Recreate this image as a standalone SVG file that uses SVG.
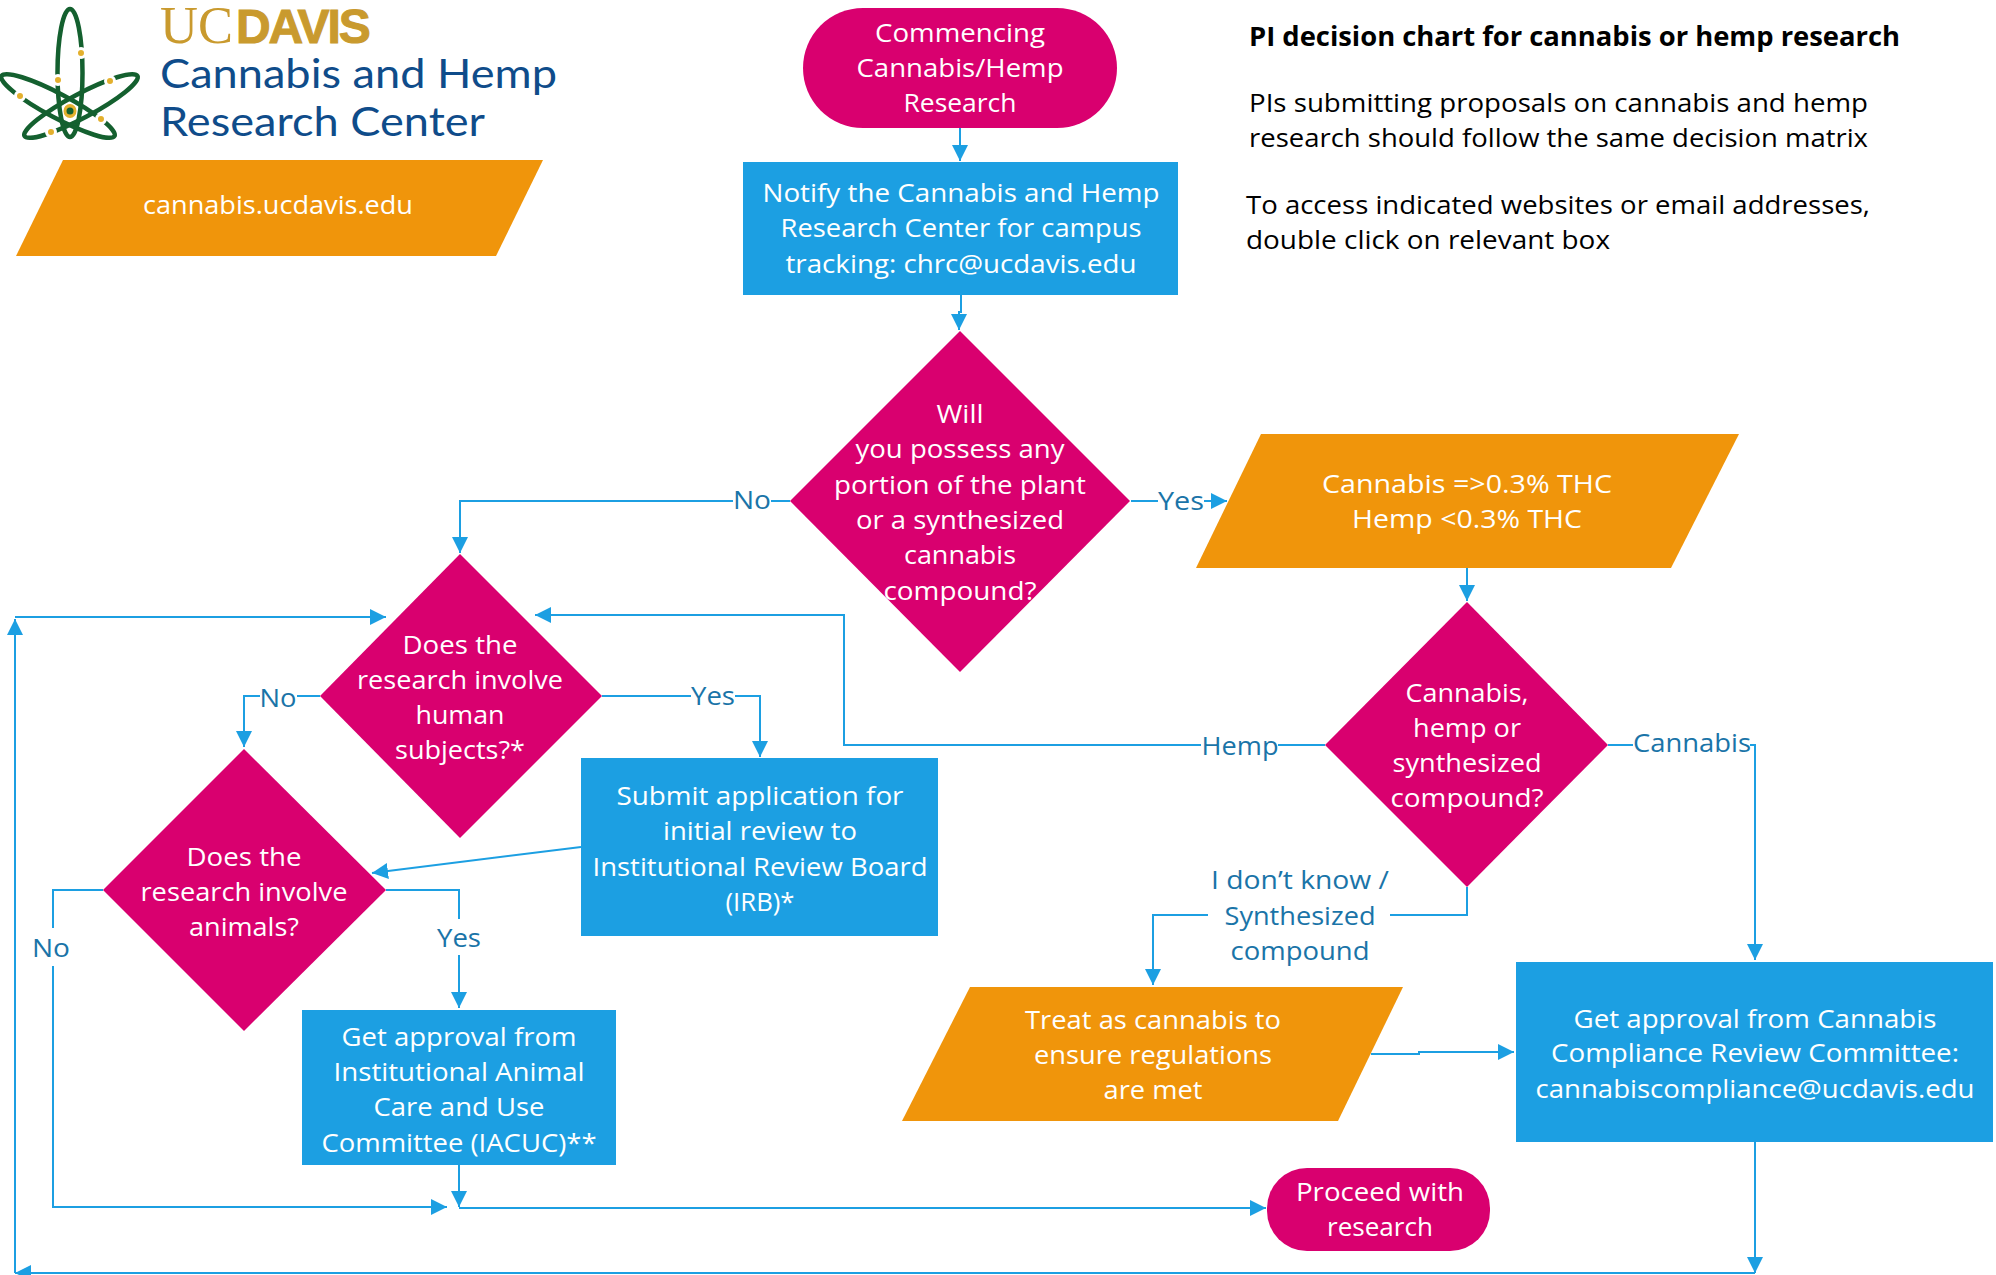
<svg xmlns="http://www.w3.org/2000/svg" width="1996" height="1275" viewBox="0 0 1996 1275">
<style>
text{font-family:"Open Sans","Noto Sans","Liberation Sans",sans-serif;font-size:26px}
.t{fill:#fff;text-anchor:middle}
.l{fill:#1a74a8;text-anchor:middle}
.k{fill:#000}
.b{font-weight:700}
.m{fill:#d9006f}
.c{fill:#1c9fe2}
.o{fill:#f0950b}
.w{fill:none;stroke:#1c9fe2;stroke-width:2}
.a{marker-end:url(#ah)}
.g{fill:none;stroke:#14602f;stroke-width:4.5}
.d{fill:#e3b02d;stroke:#fff;stroke-width:3}
.h{fill:#0f4c8a;font-family:Lato,"Open Sans",sans-serif;font-size:41px}
</style>
<defs>
<marker id="ah" markerUnits="userSpaceOnUse" markerWidth="18" markerHeight="18" refX="16" refY="8" orient="auto"><path d="M0 0L16 8L0 16Z" fill="#1c9fe2"/></marker>
</defs>
<g id="logo">
<ellipse class="g" cx="70" cy="73" rx="12.5" ry="64"/>
<ellipse class="g" cx="58" cy="106" rx="64" ry="12" transform="rotate(28 58 106)"/>
<ellipse class="g" cx="81" cy="106" rx="64" ry="12" transform="rotate(-28 81 106)"/>
<ellipse cx="70" cy="111" rx="6.5" ry="7" fill="#e3b02d"/>
<circle cx="70" cy="111" r="3.5" fill="#14602f"/>
<circle class="d" cx="81" cy="53" r="4.5"/><circle class="d" cx="58" cy="80" r="4.5"/><circle class="d" cx="110" cy="81" r="4.5"/><circle class="d" cx="20" cy="96" r="4.5"/><circle class="d" cx="101" cy="119" r="4.5"/><circle class="d" cx="51" cy="132" r="4.5"/>
<text x="160" y="43" fill="#c99a2e" style="font-family:'Liberation Serif',serif;font-size:52.5px">UC<tspan dx="3" style="font-family:'Liberation Sans',sans-serif;font-size:48px;font-weight:700;letter-spacing:-2.1px" stroke="#c99a2e" stroke-width="1">DAVIS</tspan></text>
<text class="h" x="160" y="88" textLength="397" lengthAdjust="spacingAndGlyphs">Cannabis and Hemp</text>
<text class="h" x="160" y="136" textLength="325" lengthAdjust="spacingAndGlyphs">Research Center</text>
</g>
<g id="website">
<polygon class="o" points="63,160 543,160 496,256 16,256"/>
<text class="t" x="278" y="214" textLength="270" lengthAdjust="spacingAndGlyphs">cannabis.ucdavis.edu</text>
</g>
<g id="intro">
<text class="k b" x="1249" y="46" textLength="651" lengthAdjust="spacingAndGlyphs">PI decision chart for cannabis or hemp research</text>
<text class="k" x="1249" y="112" textLength="619" lengthAdjust="spacingAndGlyphs">PIs submitting proposals on cannabis and hemp</text>
<text class="k" x="1249" y="147" textLength="619" lengthAdjust="spacingAndGlyphs">research should follow the same decision matrix</text>
<text class="k" x="1246" y="214" textLength="624" lengthAdjust="spacingAndGlyphs">To access indicated websites or email addresses,</text>
<text class="k" x="1246" y="249" textLength="364" lengthAdjust="spacingAndGlyphs">double click on relevant box</text>
</g>
<g id="start">
<rect class="m" x="803" y="8" width="314" height="120" rx="60"/>
<text class="t" x="960" y="42" textLength="170" lengthAdjust="spacingAndGlyphs">Commencing</text>
<text class="t" x="960" y="77" textLength="207" lengthAdjust="spacingAndGlyphs">Cannabis/Hemp</text>
<text class="t" x="960" y="112" textLength="113" lengthAdjust="spacingAndGlyphs">Research</text>
</g>
<g id="notify">
<rect class="c" x="743" y="162" width="435" height="133"/>
<text class="t" x="961" y="202" textLength="397" lengthAdjust="spacingAndGlyphs">Notify the Cannabis and Hemp</text>
<text class="t" x="961" y="237" textLength="361" lengthAdjust="spacingAndGlyphs">Research Center for campus</text>
<text class="t" x="961" y="273" textLength="351" lengthAdjust="spacingAndGlyphs">tracking: chrc@ucdavis.edu</text>
</g>
<g id="possess">
<polygon class="m" points="960,331 1130,501 960,672 790,501"/>
<text class="t" x="960" y="423" textLength="47" lengthAdjust="spacingAndGlyphs">Will</text>
<text class="t" x="960" y="458" textLength="209" lengthAdjust="spacingAndGlyphs">you possess any</text>
<text class="t" x="960" y="494" textLength="252" lengthAdjust="spacingAndGlyphs">portion of the plant</text>
<text class="t" x="960" y="529" textLength="208" lengthAdjust="spacingAndGlyphs">or a synthesized</text>
<text class="t" x="960" y="564" textLength="112" lengthAdjust="spacingAndGlyphs">cannabis</text>
<text class="t" x="960" y="600" textLength="153" lengthAdjust="spacingAndGlyphs">compound?</text>
</g>
<g id="thc">
<polygon class="o" points="1261,434 1739,434 1671,568 1196,568"/>
<text class="t" x="1467" y="493" textLength="290" lengthAdjust="spacingAndGlyphs">Cannabis =&gt;0.3% THC</text>
<text class="t" x="1467" y="528" textLength="230" lengthAdjust="spacingAndGlyphs">Hemp &lt;0.3% THC</text>
</g>
<g id="type">
<polygon class="m" points="1467,602 1608,745 1467,887 1325,745"/>
<text class="t" x="1467" y="702" textLength="123" lengthAdjust="spacingAndGlyphs">Cannabis,</text>
<text class="t" x="1467" y="737" textLength="108" lengthAdjust="spacingAndGlyphs">hemp or</text>
<text class="t" x="1467" y="772" textLength="149" lengthAdjust="spacingAndGlyphs">synthesized</text>
<text class="t" x="1467" y="807" textLength="153" lengthAdjust="spacingAndGlyphs">compound?</text>
</g>
<g id="human">
<polygon class="m" points="460,554 602,696 460,838 320,696"/>
<text class="t" x="460" y="654" textLength="115" lengthAdjust="spacingAndGlyphs">Does the</text>
<text class="t" x="460" y="689" textLength="206" lengthAdjust="spacingAndGlyphs">research involve</text>
<text class="t" x="460" y="724" textLength="89" lengthAdjust="spacingAndGlyphs">human</text>
<text class="t" x="460" y="759" textLength="130" lengthAdjust="spacingAndGlyphs">subjects?*</text>
</g>
<g id="animals">
<polygon class="m" points="244,749 386,890 244,1031 103,890"/>
<text class="t" x="244" y="866" textLength="115" lengthAdjust="spacingAndGlyphs">Does the</text>
<text class="t" x="244" y="901" textLength="207" lengthAdjust="spacingAndGlyphs">research involve</text>
<text class="t" x="244" y="936" textLength="110" lengthAdjust="spacingAndGlyphs">animals?</text>
</g>
<g id="irb">
<rect class="c" x="581" y="758" width="357" height="178"/>
<text class="t" x="760" y="805" textLength="287" lengthAdjust="spacingAndGlyphs">Submit application for</text>
<text class="t" x="760" y="840" textLength="194" lengthAdjust="spacingAndGlyphs">initial review to</text>
<text class="t" x="760" y="876" textLength="335" lengthAdjust="spacingAndGlyphs">Institutional Review Board</text>
<text class="t" x="760" y="911" textLength="69" lengthAdjust="spacingAndGlyphs">(IRB)*</text>
</g>
<g id="iacuc">
<rect class="c" x="302" y="1010" width="314" height="155"/>
<text class="t" x="459" y="1046" textLength="235" lengthAdjust="spacingAndGlyphs">Get approval from</text>
<text class="t" x="459" y="1081" textLength="251" lengthAdjust="spacingAndGlyphs">Institutional Animal</text>
<text class="t" x="459" y="1116" textLength="171" lengthAdjust="spacingAndGlyphs">Care and Use</text>
<text class="t" x="459" y="1152" textLength="275" lengthAdjust="spacingAndGlyphs">Committee (IACUC)**</text>
</g>
<g id="treat">
<polygon class="o" points="970,987 1403,987 1338,1121 902,1121"/>
<text class="t" x="1153" y="1029" textLength="256" lengthAdjust="spacingAndGlyphs">Treat as cannabis to</text>
<text class="t" x="1153" y="1064" textLength="238" lengthAdjust="spacingAndGlyphs">ensure regulations</text>
<text class="t" x="1153" y="1099" textLength="99" lengthAdjust="spacingAndGlyphs">are met</text>
</g>
<g id="compliance">
<rect class="c" x="1516" y="962" width="477" height="180"/>
<text class="t" x="1755" y="1028" textLength="363" lengthAdjust="spacingAndGlyphs">Get approval from Cannabis</text>
<text class="t" x="1755" y="1062" textLength="408" lengthAdjust="spacingAndGlyphs">Compliance Review Committee:</text>
<text class="t" x="1755" y="1098" textLength="439" lengthAdjust="spacingAndGlyphs">cannabiscompliance@ucdavis.edu</text>
</g>
<g id="proceed">
<rect class="m" x="1267" y="1168" width="223" height="83" rx="40"/>
<text class="t" x="1380" y="1201" textLength="168" lengthAdjust="spacingAndGlyphs">Proceed with</text>
<text class="t" x="1380" y="1236" textLength="106" lengthAdjust="spacingAndGlyphs">research</text>
</g>
<g id="connectors">
<path class="w a" d="M960 128V161"/>
<path class="w a" d="M961 295V312H959V330"/>
<path class="w" d="M790 501H771"/>
<path class="w a" d="M733 501H460V553"/>
<path class="w" d="M1131 501H1158"/>
<path class="w a" d="M1204 501H1227"/>
<path class="w a" d="M1467 568V601"/>
<path class="w" d="M1325 745H1278"/>
<path class="w a" d="M1201 745H844V615H535"/>
<path class="w" d="M1608 745H1633"/>
<path class="w a" d="M1750 745H1755V960"/>
<path class="w" d="M1467 887V915H1390"/>
<path class="w a" d="M1208 915H1153V985"/>
<path class="w a" d="M1371 1054H1419V1052H1514"/>
<path class="w a" d="M1755 1142V1273"/>
<path class="w a" d="M1755 1273H15"/>
<path class="w a" d="M15 1273V619"/>
<path class="w a" d="M15 617H386"/>
<path class="w" d="M320 696H297"/>
<path class="w a" d="M260 696H244V747"/>
<path class="w" d="M602 696H691"/>
<path class="w a" d="M735 696H760V757"/>
<path class="w a" d="M581 847L372 873"/>
<path class="w" d="M386 890H459V919"/>
<path class="w a" d="M459 955V1008"/>
<path class="w" d="M103 890H53V928"/>
<path class="w a" d="M53 966V1207H447"/>
<path class="w a" d="M459 1165V1207"/>
<path class="w a" d="M459 1208H1266"/>
</g>
<g id="connector-labels">
<text class="l" x="752" y="509" textLength="38" lengthAdjust="spacingAndGlyphs">No</text>
<text class="l" x="1181" y="510" textLength="46" lengthAdjust="spacingAndGlyphs">Yes</text>
<text class="l" x="1240" y="755" textLength="77" lengthAdjust="spacingAndGlyphs">Hemp</text>
<text class="l" x="1692" y="752" textLength="118" lengthAdjust="spacingAndGlyphs">Cannabis</text>
<text class="l" x="1300" y="889" textLength="178" lengthAdjust="spacingAndGlyphs">I don’t know /</text>
<text class="l" x="1300" y="925" textLength="151" lengthAdjust="spacingAndGlyphs">Synthesized</text>
<text class="l" x="1300" y="960" textLength="139" lengthAdjust="spacingAndGlyphs">compound</text>
<text class="l" x="278" y="707" textLength="37" lengthAdjust="spacingAndGlyphs">No</text>
<text class="l" x="713" y="705" textLength="44" lengthAdjust="spacingAndGlyphs">Yes</text>
<text class="l" x="459" y="947" textLength="44" lengthAdjust="spacingAndGlyphs">Yes</text>
<text class="l" x="51" y="957" textLength="38" lengthAdjust="spacingAndGlyphs">No</text>
</g>
</svg>
